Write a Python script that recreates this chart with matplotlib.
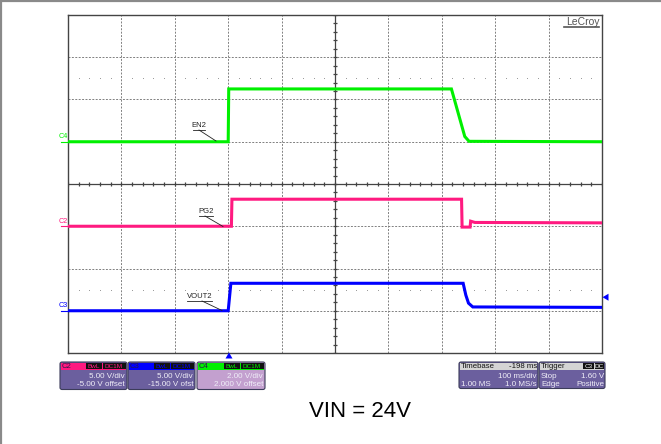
import numpy as np
import matplotlib
matplotlib.use("Agg")
import matplotlib.pyplot as plt
from matplotlib.patches import FancyBboxPatch, Rectangle, Polygon

plt.rcParams['font.family'] = ['Liberation Sans', 'DejaVu Sans']

# scope settings
ms_per_div = 100.0
t_left = -302.0          # ms at left edge (timebase delay -198 ms)
n_xdiv, n_ydiv = 10, 8

# traces: time (ms), voltage (V)
en2_t = [-302, -2, -1, 416, 441, 449, 698]
en2_v = [0.0, 0.0, 2.5, 2.5, 0.25, 0.02, 0.0]

pg2_t = [-302, 4, 5, 435, 436, 451, 452, 460, 698]
pg2_v = [0.0, 0.0, 3.2, 3.2, -0.1, -0.1, 0.6, 0.45, 0.4]

vout2_t = [-302, -2, 3, 438, 443, 448, 456, 698]
vout2_v = [0.0, 0.0, 3.25, 3.25, 1.85, 0.9, 0.45, 0.4]

# channel scale (V/div) and zero level (div from bottom)
ch_vdiv = {'C4': 2.0, 'C2': 5.0, 'C3': 5.0}
ch_zero = {'C4': 5.0, 'C2': 3.0, 'C3': 1.0}
ch_color = {'C4': '#00f000', 'C2': '#ff1a80', 'C3': '#0000ff'}

trig_level = 1.60

W, H = 661, 444
fig = plt.figure(figsize=(W / 100, H / 100), dpi=100)

# main scope grid
x0, y0, x1, y1 = 68, 15, 602, 353
ax = fig.add_axes([x0 / W, 1 - y1 / H, (x1 - x0) / W, (y1 - y0) / H])
ax.set_xlim(t_left, t_left + n_xdiv * ms_per_div)
ax.set_ylim(0, n_ydiv)
ax.set_xticks([])
ax.set_yticks([])
for s in ax.spines.values():
    s.set_color('#444444')
    s.set_linewidth(1.0)

grid_kw = dict(color='#808080', lw=0.7, ls=(0, (2, 1.5)), zorder=1)
t_center = t_left + 5 * ms_per_div
for i in range(1, n_xdiv):
    t = t_left + i * ms_per_div
    if i != 5:
        ax.axvline(t, **grid_kw)
for j in range(1, n_ydiv):
    if j != 4:
        ax.axhline(j, **grid_kw)
# center axes with minor ticks
ax.axvline(t_center, color='#444444', lw=0.9, zorder=1)
ax.axhline(4, color='#444444', lw=0.9, zorder=1)
minor_t = np.arange(t_left, t_left + n_xdiv * ms_per_div + 1, ms_per_div / 5)
ax.plot(minor_t, np.full_like(minor_t, 4), ls='none', marker='|', ms=3.5,
        color='#444444', mew=0.9, zorder=1)
minor_y = np.arange(0, n_ydiv + 0.01, 0.2)
ax.plot(np.full_like(minor_y, t_center), minor_y, ls='none', marker='_', ms=3.5,
        color='#444444', mew=0.9, zorder=1)
# dotted level rows
dots_t = [t for k, t in enumerate(minor_t) if k % 5 != 0]
for lvl in (6.5, 1.5):
    ax.plot(dots_t, [lvl] * len(dots_t), ls='none', marker='s', ms=0.55,
            mew=0, color='#888888', zorder=1)

# traces
for ch, tt, vv in (('C4', en2_t, en2_v), ('C2', pg2_t, pg2_v), ('C3', vout2_t, vout2_v)):
    yd = ch_zero[ch] + np.array(vv) / ch_vdiv[ch]
    ax.plot(tt, yd, color=ch_color[ch], lw=2.2, solid_joinstyle='miter', zorder=3)

# overlay in pixel coordinates
ov = fig.add_axes([0, 0, 1, 1], facecolor='none')
ov.set_xlim(0, W)
ov.set_ylim(H, 0)
ov.axis('off')

# image border (top and left)
ov.plot([0, W], [1.5, 1.5], color='#8a8a8a', lw=1.6)
ov.plot([0.8, 0.8], [0, H], color='#8a8a8a', lw=1.6)

# LeCroy logo
ov.text(600, 22, 'LeCroy', ha='right', va='center', fontsize=7.5, color='#555555')
ov.plot([564, 599], [27.5, 27.5], color='#555555', lw=1.2)

# trace labels with leaders
labels = [('EN2', 199, 125.5, 193, 205, 130, 199, 130, 216, 141),
          ('PG2', 206, 211.5, 199, 213, 215.5, 205, 216, 223, 226.5),
          ('VOUT2', 199.5, 296.5, 187, 212, 300.5, 202, 301, 222, 310.5)]
for txt, tx, ty, ux0, ux1, uy, lx0, ly0, lx1, ly1 in labels:
    ov.text(tx, ty, txt, ha='center', va='center', fontsize=5.5, color='#222222')
    ov.plot([ux0, ux1], [uy, uy], color='#222222', lw=0.6)
    ov.plot([lx0, lx1], [ly0, ly1], color='#222222', lw=0.6)

# channel ground markers on left
zero_px = {ch: y1 - ch_zero[ch] * (y1 - y0) / n_ydiv for ch in ch_zero}
for ch in ('C4', 'C2', 'C3'):
    yz = zero_px[ch]
    ov.text(63.5, yz - 5, ch, ha='center', va='center', fontsize=5.2,
            color=ch_color[ch], rotation=0)
    ov.plot([61, 68], [yz, yz], color=ch_color[ch], lw=0.8)

# trigger markers
ov.add_patch(Polygon([[229, 352.5], [225.5, 358.5], [232.5, 358.5]], closed=True,
                     color='#0000ff', lw=0))
ytrig = zero_px['C3'] - trig_level / ch_vdiv['C3'] * (y1 - y0) / n_ydiv
ov.add_patch(Polygon([[602.5, ytrig], [608.5, ytrig - 3.5], [608.5, ytrig + 3.5]],
                     closed=True, color='#0000ff', lw=0))

# info boxes
purple = '#6b5f9e'
light_purple = '#c3a0cf'
box_txt = '#f0eef8'


def info_box(xa, xb, ya, yb, body, head_color, head_text, head_txt_color):
    ov.add_patch(FancyBboxPatch((xa, ya), xb - xa, yb - ya,
                                boxstyle='round,pad=0,rounding_size=2',
                                fc=body, ec='#3c3c5a', lw=0.8))
    ov.add_patch(Rectangle((xa + 0.8, ya + 0.8), xb - xa - 1.6, 7.4,
                           fc=head_color, ec='none'))
    ov.text(xa + 2, ya + 4.6, head_text, ha='left', va='center', fontsize=5.6,
            color=head_txt_color)


def tag(xa, xb, yc, txt, fg):
    ov.add_patch(Rectangle((xa, yc - 3.3), xb - xa, 6.6, fc='#111111', ec='none'))
    ov.text((xa + xb) / 2, yc, txt, ha='center', va='center', fontsize=4.6, color=fg)


ch_boxes = [('C2', 60, 127, purple, '5.00 V/div', '-5.00 V offset'),
            ('C3', 128, 195, purple, '5.00 V/div', '-15.00 V ofst'),
            ('C4', 197, 265, light_purple, '2.00 V/div', '2.000 V offset')]
for ch, xa, xb, body, l1, l2 in ch_boxes:
    info_box(xa, xb, 362, 389.5, body, ch_color[ch], ch, '#2a1a4a')
    tag(xb - 41, xb - 25.5, 366, 'BwL', ch_color[ch])
    tag(xb - 24.5, xb - 1.5, 366, 'DC1M', ch_color[ch])
    ov.text(xb - 2, 376, l1, ha='right', va='center', fontsize=5.8, color=box_txt)
    ov.text(xb - 2, 384.5, l2, ha='right', va='center', fontsize=5.8, color=box_txt)

info_box(459, 538, 362, 388.5, purple, '#d4d4d4', 'Timebase', '#111111')
ov.text(537, 366.3, '-198 ms', ha='right', va='center', fontsize=5.6, color='#111111')
ov.text(537, 376, '100 ms/div', ha='right', va='center', fontsize=5.8, color=box_txt)
ov.text(461, 384, '1.00 MS', ha='left', va='center', fontsize=5.8, color=box_txt)
ov.text(537, 384, '1.0 MS/s', ha='right', va='center', fontsize=5.8, color=box_txt)

info_box(539, 605, 362, 388.5, purple, '#d4d4d4', 'Trigger', '#111111')
tag(583, 594, 366, 'C3', '#ffffff')
tag(594.7, 603.5, 366, 'DC', '#ffffff')
ov.text(541, 376, 'Stop', ha='left', va='center', fontsize=5.8, color=box_txt)
ov.text(604, 376, '1.60 V', ha='right', va='center', fontsize=5.8, color=box_txt)
ov.text(541, 384, 'Edge', ha='left', va='center', fontsize=5.8, color=box_txt)
ov.text(604, 384, 'Positive', ha='right', va='center', fontsize=5.8, color=box_txt)

# caption
ov.text(360, 411, 'VIN = 24V', ha='center', va='center', fontsize=16, color='#000000')

fig.savefig('out.png', dpi=100)
